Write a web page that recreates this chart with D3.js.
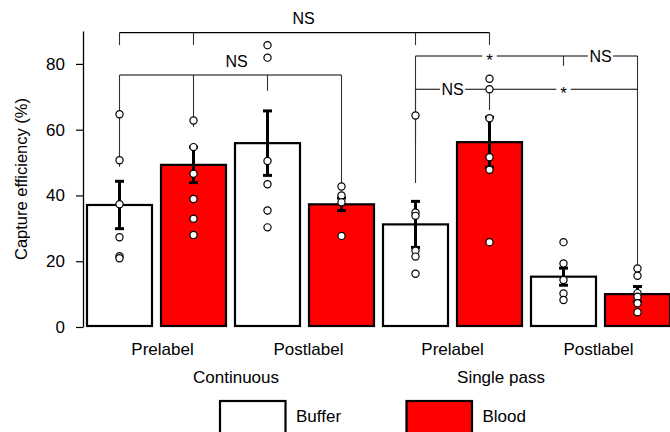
<!DOCTYPE html>
<html>
<head>
<meta charset="utf-8">
<script src="https://cdn.jsdelivr.net/npm/d3@7"></script>
<style>
  body { margin: 0; background: #fff; }
  svg text { font-family: "Liberation Sans", Arial, Helvetica, sans-serif; fill: #000; }
</style>
</head>
<body>
<svg id="chart" width="670" height="432"></svg>
<script>
// data
var series = ["Buffer", "Blood"];
var seriesColors = ["#ffffff", "#ff0000"];
var conditions = ["Continuous", "Single pass"];
var labelings = ["Prelabel", "Postlabel"];
var yTicks = [0, 20, 40, 60, 80];

// bars in order: cond x labeling x series
var barMeans = [37.1, 49.3, 55.9, 37.3, 31.2, 56.2, 15.3, 10.0];
var barSem = [7.2, 5.4, 9.8, 1.9, 7.0, 7.6, 2.6, 2.3];
var barPoints = [
    [64.7, 50.7, 37.3, 27.3, 21.5, 20.9],
    [62.8, 54.7, 46.6, 38.9, 32.9, 28.0],
    [85.7, 81.9, 50.5, 43.4, 35.4, 30.3],
    [42.7, 40.0, 37.9, 27.7],
    [64.3, 34.8, 33.8, 23.2, 21.4, 16.2],
    [75.5, 72.3, 63.5, 51.6, 47.8, 25.8],
    [25.8, 19.3, 14.3, 10.2, 8.2],
    [17.8, 15.6, 10.3, 9.2, 7.2, 4.5]
];

// significance comparisons (bar indexes, level in %)
var brackets = [
    { from: 0, to: 5, level: 89.5, label: "NS", inline: false, drops: [[0, 85.7], [1, 85.7], [4, 85.7], [5, 85.7]] },
    { from: 0, to: 3, level: 76.6, label: "NS", inline: false, drops: [[0, 48.7], [1, 60.8], [2, 71.8], [3, 43.8]] },
    { from: 4, to: 6, level: 82.4, label: "*", inline: true, drops: [[4, 56.3]] },
    { from: 6, to: 7, level: 82.4, label: "NS", inline: true, drops: [[6, 79.4], [7, 18.9]] },
    { from: 4, to: 5, level: 72.3, label: "NS", inline: true, drops: [[4, 43.8], [5, 66.0]] },
    { from: 5, to: 7, level: 72.3, label: "*", inline: true, drops: [] }
];

var bars = [];
conditions.forEach(function (c, ci) {
    labelings.forEach(function (l, li) {
        series.forEach(function (s, si) {
            var i = bars.length;
            bars.push({ i: i, cond: ci, lab: li, s: si, mean: barMeans[i], sem: barSem[i], pts: barPoints[i] });
        });
    });
});

var svg = d3.select("#chart");

var x = d3.scaleBand()
    .domain(d3.range(bars.length))
    .range([82.5, 82.5 + 74 * bars.length])
    .paddingInner(7 / 74)
    .paddingOuter(3.5 / 74);

var y = d3.scaleLinear().domain([0, 90]).range([327, 31]);

function cx(i) { return x(i) + x.bandwidth() / 2; }

// y axis
var yAxis = svg.append("g")
    .attr("transform", "translate(83,0)")
    .call(d3.axisLeft(y).tickValues(yTicks).tickSize(7).tickSizeOuter(0).tickPadding(11));
yAxis.select(".domain").attr("stroke", "#000").attr("stroke-width", 1.3);
yAxis.selectAll(".tick line").attr("stroke", "#000").attr("stroke-width", 1.2);
yAxis.selectAll(".tick text").style("font-size", "17px").attr("fill", "#000");

svg.append("text")
    .attr("transform", "translate(27," + ((y(0) + y(90)) / 2) + ") rotate(-90)")
    .attr("text-anchor", "middle")
    .style("font-size", "16.5px")
    .text("Capture efficiency (%)");

// bracket drop lines first (under bars and points)
var ann = svg.append("g");
brackets.forEach(function (b) {
    b.drops.forEach(function (d) {
        ann.append("line")
            .attr("x1", cx(d[0])).attr("x2", cx(d[0]))
            .attr("y1", y(b.level)).attr("y2", y(d[1]))
            .attr("stroke", "#333").attr("stroke-width", 1.1);
    });
});

// bars
svg.append("g").selectAll("rect")
    .data(bars)
    .enter().append("rect")
    .attr("x", function (d) { return x(d.i) + 1; })
    .attr("width", x.bandwidth() - 2)
    .attr("y", function (d) { return y(d.mean); })
    .attr("height", function (d) { return y(0) - y(d.mean) - 1; })
    .attr("fill", function (d) { return seriesColors[d.s]; })
    .attr("stroke", "#000")
    .attr("stroke-width", 2.2);

// error bars
var eb = svg.append("g").attr("stroke", "#000").attr("stroke-width", 3);
bars.forEach(function (d) {
    var c = cx(d.i);
    eb.append("line").attr("x1", c).attr("x2", c).attr("y1", y(d.mean + d.sem)).attr("y2", y(d.mean - d.sem));
    eb.append("line").attr("x1", c - 4.5).attr("x2", c + 4.5).attr("y1", y(d.mean + d.sem)).attr("y2", y(d.mean + d.sem));
    eb.append("line").attr("x1", c - 4.5).attr("x2", c + 4.5).attr("y1", y(d.mean - d.sem)).attr("y2", y(d.mean - d.sem));
});

// horizontal bracket lines + labels
brackets.forEach(function (b, bi) {
    var x1 = cx(b.from), x2 = cx(b.to), yy = y(b.level), mid = (x1 + x2) / 2;
    ann.append("line")
        .attr("x1", x1).attr("x2", x2).attr("y1", yy).attr("y2", yy)
        .attr("stroke", "#000").attr("stroke-width", 1.1);
    if (b.inline) {
        var t = svg.append("text")
            .attr("x", mid)
            .attr("y", yy + (b.label == "*" ? 9.7 : 5.8))
            .attr("text-anchor", "middle")
            .style("font-size", b.label == "*" ? "17px" : "16px")
            .text(b.label);
        var w = t.node().getComputedTextLength();
        var pad = b.label == "*" ? 4 : 1.5;
        ann.append("rect")
            .attr("x", mid - w / 2 - pad).attr("width", w + pad * 2)
            .attr("y", yy - 3).attr("height", 6)
            .attr("fill", "#fff");
    } else {
        svg.append("text")
            .attr("x", mid + (bi == 1 ? 6 : -1))
            .attr("y", yy - 8.5)
            .attr("text-anchor", "middle")
            .style("font-size", "16px")
            .text(b.label);
    }
});

// individual points
var pts = [];
bars.forEach(function (d) {
    d.pts.forEach(function (v) { pts.push({ i: d.i, v: v }); });
});
svg.append("g").selectAll("circle")
    .data(pts)
    .enter().append("circle")
    .attr("cx", function (d) { return cx(d.i); })
    .attr("cy", function (d) { return y(d.v); })
    .attr("r", 3.6)
    .attr("fill", "#fff")
    .attr("stroke", "#000")
    .attr("stroke-width", 1.2);

// category labels
var catG = svg.append("g").style("font-size", "17px").attr("text-anchor", "middle");
var catShift = [6, 4, 0, -2];
conditions.forEach(function (c, ci) {
    labelings.forEach(function (l, li) {
        var i0 = ci * 4 + li * 2;
        catG.append("text")
            .attr("x", (cx(i0) + cx(i0 + 1)) / 2 + catShift[ci * 2 + li])
            .attr("y", 355)
            .text(l);
    });
});
var groupShift = [5.5, -25.5];
conditions.forEach(function (c, ci) {
    var i0 = ci * 4;
    catG.append("text")
        .attr("x", (cx(i0) + cx(i0 + 3)) / 2 + groupShift[ci])
        .attr("y", 382.5)
        .text(c);
});

// legend
var legX = [220, 406.5];
series.forEach(function (s, si) {
    svg.append("rect")
        .attr("x", legX[si]).attr("y", 401)
        .attr("width", 65.5).attr("height", 40)
        .attr("fill", seriesColors[si])
        .attr("stroke", "#000").attr("stroke-width", 2.2);
    svg.append("text")
        .attr("x", legX[si] + 76)
        .attr("y", 421.5)
        .style("font-size", "17px")
        .text(s);
});
</script>
</body>
</html>
